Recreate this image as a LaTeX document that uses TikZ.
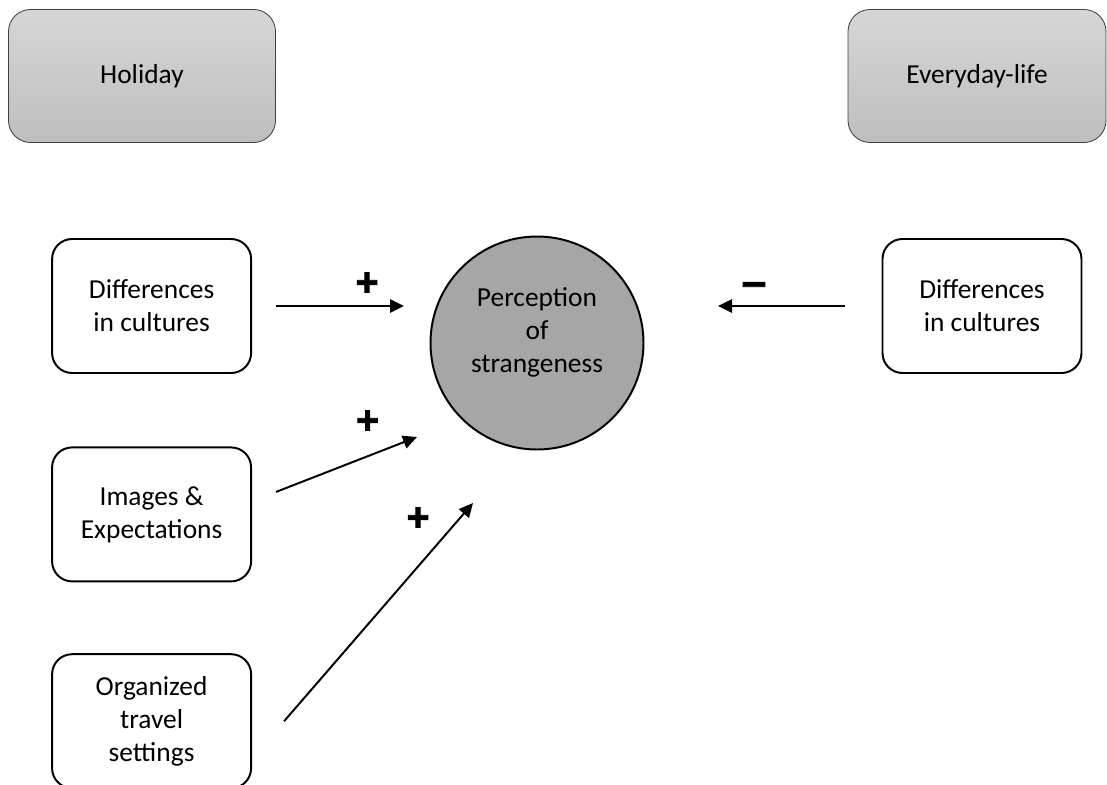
\documentclass[tikz,border=0pt]{standalone}
\usepackage{fontspec}
\setmainfont{Carlito}
\newfontfamily\signfont[FakeBold=2]{Liberation Sans Bold}
\usetikzlibrary{arrows.meta}

\definecolor{settingtop}{RGB}{214,214,214}
\definecolor{settingbot}{RGB}{190,190,190}
\definecolor{strangegray}{RGB}{166,166,166}

\tikzset{
	setting/.style={draw=black!75,line width=0.6pt,rounded corners=0.55cm,
		top color=settingtop,bottom color=settingbot,
		minimum height=3.325cm,align=center,font=\fontsize{19.5}{23.5}\selectfont},
	factor/.style={draw,line width=1.4pt,rounded corners=0.5cm,fill=white,
		minimum width=4.975cm,minimum height=3.35cm,align=center,
		font=\fontsize{19.5}{23.5}\selectfont},
	effect/.style={line width=1.4pt,->,>={Triangle[length=0.35cm,width=0.33cm]}},
	sign/.style={font=\signfont\fontsize{28}{28}\selectfont,inner sep=0pt}
}

\begin{document}
\begin{tikzpicture}
	\useasboundingbox (0,0) rectangle (27.675,-19.625);
	
	% contexts
	\node[setting,minimum width=6.675cm] (holiday) at (3.55,-1.9) {Holiday};
	\node[setting,minimum width=6.45cm] (everyday) at (24.425,-1.9) {Everyday-life};
	
	% central node
	\node[circle,draw,line width=1.4pt,fill=strangegray,minimum size=5.325cm,
		align=center,text depth=0.66cm,font=\fontsize{19.5}{23.5}\selectfont] (strange) at (13.425,-8.575)
		{Perception\\of\\strangeness};
	
	% factors
	\node[factor] (diffL) at (3.79,-7.65) {Differences\\in cultures};
	\node[factor] (images) at (3.79,-12.86) {Images \&\\Expectations};
	\node[factor] (travel) at (3.79,-18.03) {Organized\\travel\\settings};
	\node[factor] (diffR) at (24.55,-7.65) {Differences\\in cultures};
	
	% arrow ends near the circle
	\coordinate (tipL) at (10.1,-7.65);
	\coordinate (tipR) at (17.95,-7.65);
	\coordinate (tipI) at (10.425,-10.925);
	\coordinate (tipT) at (11.825,-12.575);
	
	\draw[effect] ([xshift=0.6cm]diffL.east) -- (tipL);
	\draw[effect] ([xshift=-0.925cm]diffR.west) -- (tipR);
	\draw[effect] ([xshift=0.6cm,yshift=0.5625cm]images.east) -- (tipI);
	\draw[effect] ([xshift=0.8cm]travel.east) -- (tipT);
	
	% signs
	\node[sign] (plusL) at (9.175,-7.1) {+};
	\node[sign] (plusI) at (9.19,-10.55) {+};
	\node[sign] (plusT) at (10.45,-12.975) {+};
	\node[sign,xscale=1.1] (minusR) at (18.85,-7.25) {−};
\end{tikzpicture}
\end{document}
